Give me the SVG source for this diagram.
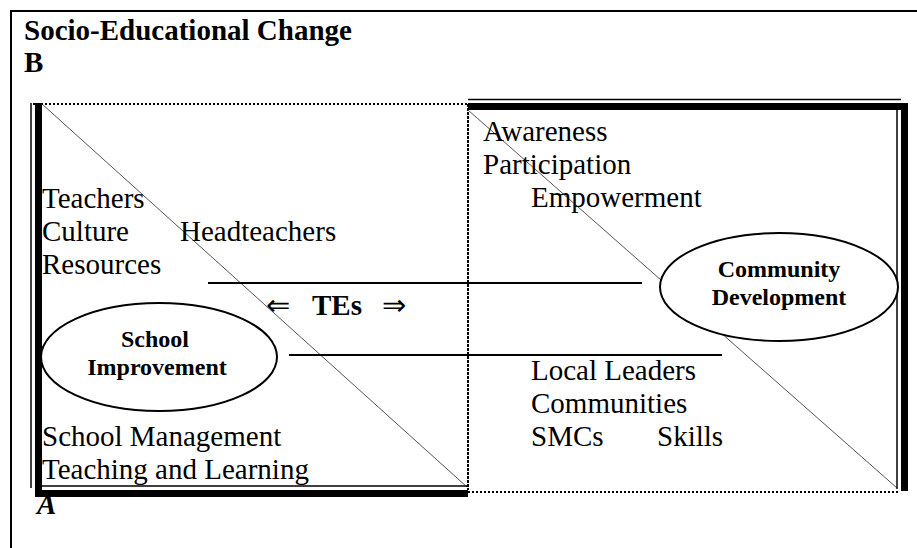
<svg xmlns="http://www.w3.org/2000/svg" width="917" height="548" viewBox="0 0 917 548">
<style>
text{font-family:"Liberation Serif","Times New Roman",serif;fill:#000}
.t{font-size:29px}
.b{font-weight:bold}
.e{font-size:24px;font-weight:bold;text-anchor:middle}
.dot{fill:none;stroke:#000;stroke-width:2;stroke-dasharray:2 2}
.diag{stroke:#555;stroke-width:1}
.bar{fill:#000}
.thin{stroke:#000;stroke-width:1.5}
.ell{fill:#fff;stroke:#000;stroke-width:2}
.ln{stroke:#000;stroke-width:2}
</style>
<rect width="917" height="548" fill="#fff"/>
<g id="frame">
<rect x="11" y="11" width="1000" height="1000" fill="none" stroke="#000" stroke-width="2"/>
<text class="t b" x="24" y="40">Socio-Educational Change</text>
<text class="t b" x="24" y="72">B</text>
<text class="t b" x="37" y="514" font-style="italic">A</text>
</g>
<g id="squareA">
<line class="diag" x1="42" y1="104" x2="467" y2="487"/>
<path class="dot" d="M33 104 H468 V490"/>
<line class="thin" x1="31" y1="103" x2="31" y2="488"/>
<rect class="bar" x="35" y="103" width="7" height="394"/>
<line class="thin" x1="42" y1="486" x2="468" y2="486"/>
<rect class="bar" x="35" y="490" width="433" height="7"/>
</g>
<g id="squareB">
<line class="diag" x1="468" y1="110" x2="897" y2="488"/>
<path class="dot" d="M468 104 V492 H900"/>
<line class="thin" x1="468" y1="99.5" x2="901" y2="99.5"/>
<rect class="bar" x="468" y="103" width="433" height="7"/>
<line class="thin" x1="897" y1="103" x2="897" y2="489"/>
<rect class="bar" x="901" y="103" width="7" height="388"/>
</g>
<g id="connectors">
<line class="ln" x1="208" y1="283" x2="642" y2="283"/>
<line class="ln" x1="289" y1="355" x2="722" y2="355"/>
<text class="t" x="266" y="315">⇐</text>
<text class="t b" x="312" y="315">TEs</text>
<text class="t" x="382" y="315">⇒</text>
</g>
<g id="school-labels">
<text class="t" x="42" y="208">Teachers</text>
<text class="t" x="42" y="241">Culture</text>
<text class="t" x="180" y="241">Headteachers</text>
<text class="t" x="42" y="274">Resources</text>
<text class="t" x="42" y="446">School Management</text>
<text class="t" x="42" y="479">Teaching and Learning</text>
</g>
<g id="community-labels">
<text class="t" x="483" y="141">Awareness</text>
<text class="t" x="483" y="174">Participation</text>
<text class="t" x="531" y="207">Empowerment</text>
<text class="t" x="531" y="380">Local Leaders</text>
<text class="t" x="531" y="413">Communities</text>
<text class="t" x="531" y="446">SMCs</text>
<text class="t" x="657" y="446">Skills</text>
</g>
<g id="school-improvement">
<ellipse class="ell" cx="159" cy="357" rx="118" ry="54"/>
<text class="e" x="155" y="347">School</text>
<text class="e" x="157" y="375">Improvement</text>
</g>
<g id="community-development">
<ellipse class="ell" cx="779" cy="287" rx="119" ry="54"/>
<text class="e" x="779" y="277">Community</text>
<text class="e" x="779" y="305">Development</text>
</g>
</svg>
